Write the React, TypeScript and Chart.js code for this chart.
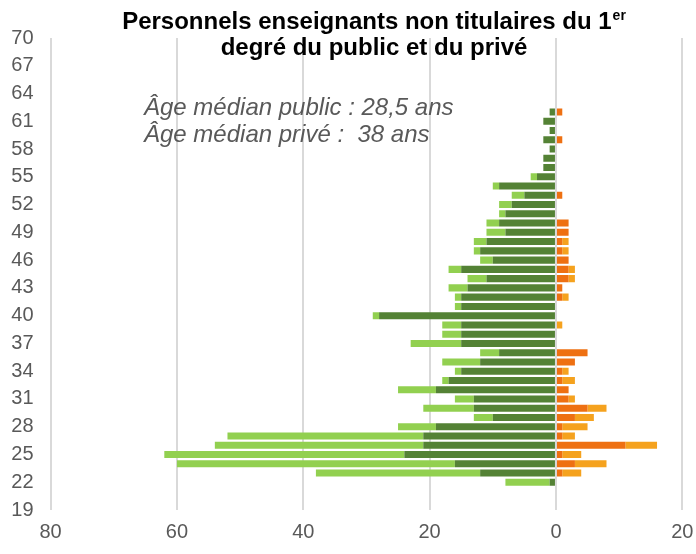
import React, { useEffect, useRef } from "react";
import { Chart, registerables } from "chart.js";

Chart.register(...registerables);

const ages: number[] = [];
for (let a = 19; a <= 70; a++) ages.push(a);

// values per age, from 19 to 70
const femmesPrive = [0,0,0,1,12,16,24,21,21,19,10,13,13,19,17,15,12,9,15,15,15,28,15,15,14,11,15,10,12,11,8,9,8,7,5,9,3,2,2,1,2,1,2,1,0,0,0,0,0,0,0,0];
const femmesPublic = [0,0,0,7,26,44,38,33,31,6,3,8,3,6,1,1,6,3,8,3,3,1,1,1,3,3,2,2,1,2,3,2,1,2,2,1,1,0,0,0,0,0,0,0,0,0,0,0,0,0,0,0];
const hommesPrive = [0,0,0,0,1,3,1,11,1,1,3,5,2,2,1,1,3,5,0,0,0,0,0,1,1,2,2,2,1,1,2,2,0,0,1,0,0,0,0,0,1,0,0,1,0,0,0,0,0,0,0,0];
const hommesPublic = [0,0,0,0,3,5,3,5,2,4,3,3,1,0,2,1,0,0,0,0,1,0,0,1,0,1,1,0,1,1,0,0,0,0,0,0,0,0,0,0,0,0,0,0,0,0,0,0,0,0,0,0];

const xTicks = [-80, -60, -40, -20, 0, 20];

const titleLine1 = "Personnels enseignants non titulaires du 1";
const titleSup = "er";
const titleLine2 = "degré du public et du privé";
const note1 = "Âge médian public : 28,5 ans";
const note2 = "Âge médian privé :  38 ans";

const textPlugin = {
  id: "texts",
  afterDraw(chart: any) {
    const ctx = chart.ctx;
    ctx.save();
    ctx.fillStyle = "#000000";
    ctx.textBaseline = "alphabetic";
    ctx.textAlign = "left";
    const bold = 'bold 24px "Liberation Sans", Arial, sans-serif';
    const supFont = 'bold 14px "Liberation Sans", Arial, sans-serif';
    ctx.font = bold;
    const w1 = ctx.measureText(titleLine1).width;
    ctx.font = supFont;
    const ws = ctx.measureText(titleSup).width;
    const cx = 374;
    const x1 = cx - (w1 + ws + 1) / 2;
    ctx.font = bold;
    ctx.fillText(titleLine1, x1, 29);
    ctx.font = supFont;
    ctx.fillText(titleSup, x1 + w1 + 1, 20);
    ctx.font = bold;
    ctx.textAlign = "center";
    ctx.fillText(titleLine2, cx, 55);

    ctx.textAlign = "left";
    ctx.fillStyle = "#595959";
    ctx.font = 'italic 24px "Liberation Sans", Arial, sans-serif';
    ctx.fillText(note1, 144, 115);
    ctx.fillText(note2, 144, 142);
    ctx.restore();
  },
};

export default function App() {
  const ref = useRef<HTMLCanvasElement>(null);
  useEffect(() => {
    if (!ref.current) return;
    const neg = (arr: number[]) => arr.map((v) => -v);
    const chart = new Chart(ref.current, {
      type: "bar",
      data: {
        labels: ages.map(String),
        datasets: [
          { label: "Femmes privé", data: neg(femmesPrive), backgroundColor: "#548235", stack: "s" },
          { label: "Femmes public", data: neg(femmesPublic), backgroundColor: "#92D050", stack: "s" },
          { label: "Hommes privé", data: hommesPrive, backgroundColor: "#EE7012", stack: "s" },
          { label: "Hommes public", data: hommesPublic, backgroundColor: "#F5A21E", stack: "s" },
        ],
      },
      options: {
        indexAxis: "y",
        responsive: false,
        animation: false,
        maintainAspectRatio: false,
        layout: { padding: { left: 0, right: 13.7, top: 38, bottom: 0 } },
        plugins: { legend: { display: false }, title: { display: false }, tooltip: { enabled: false } },
        datasets: { bar: { categoryPercentage: 0.8, barPercentage: 0.95 } },
        scales: {
          x: {
            type: "linear",
            stacked: true,
            min: -80,
            max: 20,
            afterBuildTicks: (scale: any) => {
              scale.ticks = xTicks.map((v) => ({ value: v }));
            },
            afterFit: (scale: any) => {
              scale.height = 44;
              scale.paddingRight = 0;
              scale.paddingLeft = 0;
            },
            grid: { color: "#D9D9D9", lineWidth: 2, drawTicks: false },
            border: { display: false },
            ticks: {
              padding: 10,
              color: "#595959",
              font: { family: '"Liberation Sans", Arial, sans-serif', size: 20 },
              callback: (v: any) => String(Math.abs(Number(v))),
            },
          },
          y: {
            type: "category",
            stacked: true,
            reverse: true,
            offset: false,
            afterFit: (scale: any) => {
              scale.width = 50.6;
            },
            grid: { display: false, drawTicks: false },
            border: { display: false },
            ticks: {
              autoSkip: false,
              padding: 17,
              color: "#595959",
              font: { family: '"Liberation Sans", Arial, sans-serif', size: 20 },
              callback: function (this: any, value: any) {
                const age = Number(this.getLabelForValue(value));
                return (age - 19) % 3 === 0 ? String(age) : "";
              },
            },
          },
        },
      } as any,
      plugins: [textPlugin],
    });
    return () => chart.destroy();
  }, []);
  return (
    <div style={{ position: "fixed", left: 0, top: 0, width: 696, height: 554, background: "#fff" }}>
      <canvas ref={ref} width={696} height={554} style={{ width: 696, height: 554, display: "block" }} />
    </div>
  );
}
